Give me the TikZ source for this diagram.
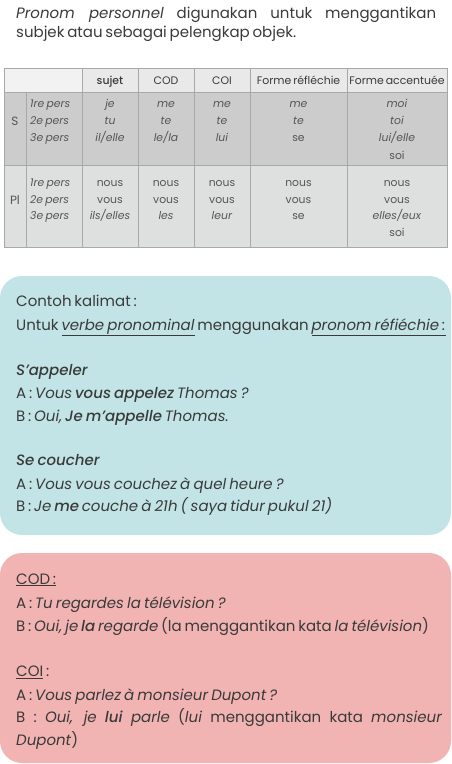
\documentclass[tikz,border=0pt]{standalone}
\usepackage{fontspec}
\setmainfont{Poppins}[WordSpace=0.7, BoldFont={* Medium}, BoldItalicFont={* Medium Italic}]
\definecolor{ink}{HTML}{3A3A3A}
\definecolor{tink}{HTML}{555555}
\definecolor{gridc}{HTML}{A8A8A8}
\definecolor{hdrA}{HTML}{F2F2F2}
\definecolor{hdrB}{HTML}{E9E9E9}
\definecolor{srow}{HTML}{CCCCCC}
\definecolor{plrow}{HTML}{DEDFDF}
\definecolor{bluebox}{HTML}{C2E4E6}
\definecolor{pinkbox}{HTML}{F2B3B3}
\tikzset{
  line/.style={anchor=base west, inner sep=0pt, text=ink, font=\fontsize{15}{18}\selectfont},
  ttl/.style={anchor=base west, inner sep=0pt, text=ink, font=\fontsize{15}{18}\selectfont},
  th/.style={anchor=base, inner sep=0pt, text=ink, font=\fontsize{10.9}{13}\selectfont},
  td/.style={anchor=base, inner sep=0pt, text=tink, font=\fontsize{10.8}{12}\selectfont},
  tl/.style={anchor=base west, inner sep=0pt, text=tink, font=\fontsize{10.8}{12}\selectfont\itshape},
  gl/.style={draw=gridc, line width=0.8pt},
}
\newcommand{\bi}[1]{\textbf{\textit{#1}}}
\begin{document}
\begin{tikzpicture}[x=1pt,y=-1pt]
\useasboundingbox (0,0) rectangle (451,764);
% title
\node[ttl] (t1) at (16,18) {\makebox[420pt][s]{\textit{Pronom personnel} digunakan untuk menggantikan}};
\node[ttl] (t2) at (16,37) {subjek atau sebagai pelengkap objek.};
% table fills
\fill[hdrA] (4,68) rectangle (82,92);
\fill[hdrB] (82,68) rectangle (447,92);
\fill[srow] (4,92) rectangle (447,165);
\fill[plrow] (4,165) rectangle (447,247);
\draw[gl] (4,68) rectangle (447,247);
\draw[gl] (4,92) -- (447,92);
\draw[gl] (4,165) -- (447,165);
\draw[gl] (26,92) -- (26,247);
\foreach \xx in {82,138,194,250,347} \draw[gl] (\xx,68) -- (\xx,247);
% header
\node[th] (hsu) at (110,84) {\textbf{sujet}};
\node[th] (hcod) at (166,84) {COD};
\node[th] (hcoi) at (222,84) {COI};
\node[th] (hrf) at (298.5,84) {Forme réfléchie};
\node[th] (hac) at (397,84) {Forme accentuée};
% S row
\node[td, font=\fontsize{12}{13}\selectfont] (sS) at (15,125) {S};
\node[tl] (s1) at (30,107.5) {1re pers};
\node[tl] (s2) at (30,124.5) {2e pers};
\node[tl] (s3) at (30,141.5) {3e pers};
\node[td] (ssu1) at (110,107.5) {\textit{je}};
\node[td] (ssu2) at (110,124.5) {\textit{tu}};
\node[td] (ssu3) at (110,141.5) {\textit{il/elle}};
\node[td] (scd1) at (166,107.5) {\textit{me}};
\node[td] (scd2) at (166,124.5) {\textit{te}};
\node[td] (scd3) at (166,141.5) {\textit{le/la}};
\node[td] (sci1) at (222,107.5) {\textit{me}};
\node[td] (sci2) at (222,124.5) {\textit{te}};
\node[td] (sci3) at (222,141.5) {\textit{lui}};
\node[td] (srf1) at (298.5,107.5) {\textit{me}};
\node[td] (srf2) at (298.5,124.5) {\textit{te}};
\node[td] (srf3) at (298.5,141.5) {se};
\node[td] (sac1) at (397,107.5) {\textit{moi}};
\node[td] (sac2) at (397,124.5) {\textit{toi}};
\node[td] (sac3) at (397,141.5) {\textit{lui/elle}};
\node[td] (sac4) at (397,159.5) {soi};
% Pl row
\node[td, font=\fontsize{12}{13}\selectfont] (pP) at (15,204) {Pl};
\node[tl] (p1) at (30,186.5) {1re pers};
\node[tl] (p2) at (30,203.5) {2e pers};
\node[tl] (p3) at (30,219.5) {3e pers};
\node[td] (psu1) at (110,186.5) {nous};
\node[td] (psu2) at (110,203.5) {vous};
\node[td] (psu3) at (110,219.5) {\textit{ils/elles}};
\node[td] (pcd1) at (166,186.5) {nous};
\node[td] (pcd2) at (166,203.5) {vous};
\node[td] (pcd3) at (166,219.5) {\textit{les}};
\node[td] (pci1) at (222,186.5) {nous};
\node[td] (pci2) at (222,203.5) {vous};
\node[td] (pci3) at (222,219.5) {\textit{leur}};
\node[td] (prf1) at (298.5,186.5) {nous};
\node[td] (prf2) at (298.5,203.5) {vous};
\node[td] (prf3) at (298.5,219.5) {se};
\node[td] (pac1) at (397,186.5) {nous};
\node[td] (pac2) at (397,203.5) {vous};
\node[td] (pac3) at (397,219.5) {\textit{elles/eux}};
\node[td] (pac4) at (397,236.5) {soi};
% blue box
\fill[bluebox, rounded corners=22pt] (0,276) rectangle (451,535);
\node[line] (b1) at (16,306.5) {Contoh kalimat :};
\node[line] (b2) at (16,330) {Untuk \underline{\textit{verbe pronominal}} menggunakan \underline{\textit{pronom réfiéchie :}}};
\node[line] (b3) at (16,375) {\bi{S'appeler}};
\node[line] (b4) at (16,398) {A : \textit{Vous} \bi{vous appelez} \textit{Thomas ?}};
\node[line] (b5) at (16,421.5) {B : \textit{Oui,} \bi{Je m'appelle} \textit{Thomas.}};
\node[line] (b6) at (16,465.5) {\bi{Se coucher}};
\node[line] (b7) at (16,489) {A : \textit{Vous vous couchez à quel heure ?}};
\node[line] (b8) at (16,511.5) {B : \textit{Je} \bi{me} \textit{couche à 21h ( saya tidur pukul 21)}};
% pink box
\fill[pinkbox, rounded corners=22pt] (0,553) rectangle (451,763);
\node[line] (r1) at (16,584) {\underline{COD :}};
\node[line] (r2) at (16,608) {A : \textit{Tu regardes la télévision ?}};
\node[line] (r3) at (16,631) {B : \textit{Oui, je} \bi{la} \textit{regarde} (la menggantikan kata \textit{la télévision})};
\node[line] (r4) at (16,676.5) {\underline{COI} :};
\node[line] (r5) at (16,700) {A : \textit{Vous parlez à monsieur Dupont ?}};
\node[line] (r6) at (16,722) {\makebox[426pt][s]{B : \textit{Oui, je} \bi{lui} \textit{parle} (\textit{lui} menggantikan kata \textit{monsieur}}};
\node[line] (r7) at (16,745) {\textit{Dupont})};
\end{tikzpicture}
\end{document}
